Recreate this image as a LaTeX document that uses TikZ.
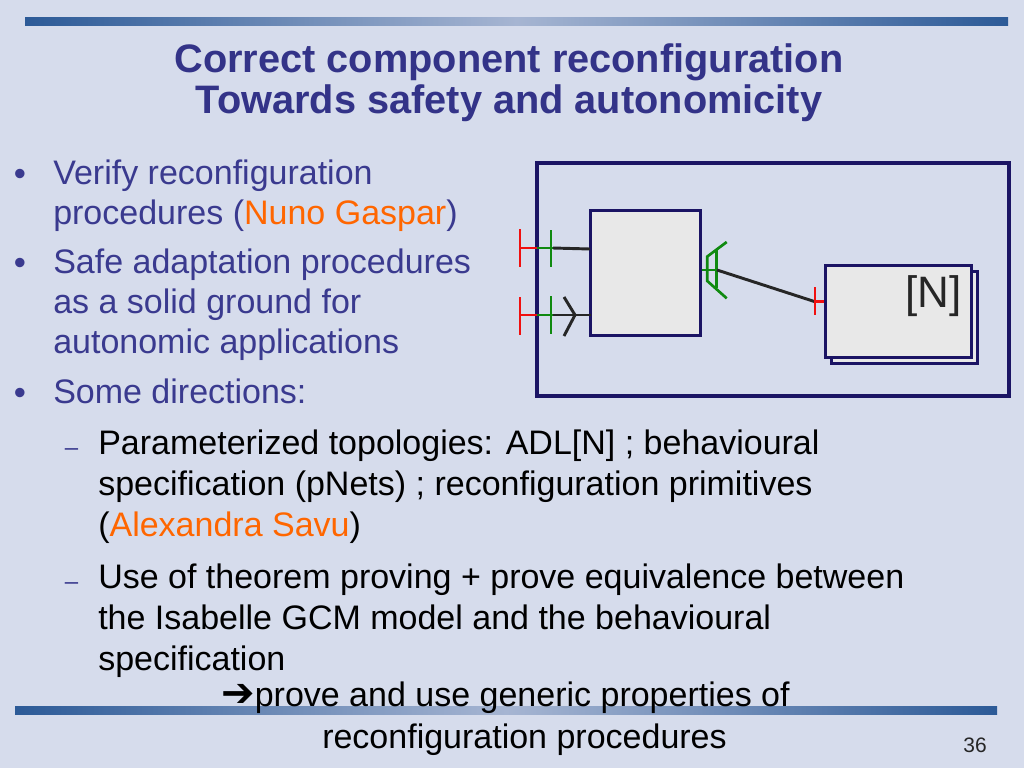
\documentclass[tikz,border=0pt]{standalone}
\usepackage{fontspec}
\setmainfont{Liberation Sans}
\newfontfamily\symfont{DejaVu Sans}
\usetikzlibrary{shadows}
\definecolor{slidebg}{HTML}{D6DCEC}
\definecolor{bartip}{HTML}{2C5A97}
\definecolor{barmid}{HTML}{A6B5D2}
\definecolor{titleblue}{HTML}{333388}
\definecolor{textblue}{HTML}{3A3A8F}
\definecolor{namecol}{HTML}{FF6600}
\definecolor{navy}{HTML}{1B1464}
\definecolor{boxgrey}{HTML}{E8E8E8}
\definecolor{portred}{HTML}{F01010}
\definecolor{portgreen}{HTML}{108A10}
\newcommand\bodysize{\fontsize{25.5pt}{30pt}\selectfont}
\tikzset{
	headline/.style={anchor=base, inner sep=0pt, text=titleblue, font=\fontsize{29.8pt}{36pt}\selectfont\bfseries},
	lvlone/.style={anchor=base west, inner sep=0pt, text=textblue, font=\bodysize},
	lvltwo/.style={lvlone, text=black},
	bulletmark/.style={anchor=base, inner sep=0pt, text=textblue, font=\fontsize{26pt}{28pt}\selectfont},
	dashmark/.style={anchor=base, inner sep=0pt, text=textblue, font=\fontsize{18pt}{20pt}\selectfont},
	comp/.style={draw=navy, fill=boxgrey, line width=2.25pt, inner sep=0pt},
	redport/.style={draw=portred, line width=2.2pt},
	greenport/.style={draw=portgreen, line width=2pt},
	wire/.style={draw=black!85, line width=2.2pt},
	slidebar/.style={left color=bartip, right color=bartip, middle color=barmid}
}
\begin{document}
\begin{tikzpicture}[x=0.75pt, y=-0.75pt]
		%%%%% START %%%%%
		
		\fill[slidebg] (0, 0) rectangle (1024, 768);
		\useasboundingbox (0, 0) rectangle (1024, 768);
		
		\shade[slidebar] (25, 17) rectangle (1008, 25);
		\shade[slidebar] (15, 706) rectangle (997, 714);
		
		\node[headline] (title1) at (509, 72) {Correct component reconfiguration};
		\node[headline] (title2) at (509, 113) {Towards safety and autonomicity};
		
		%%%%% BULLETS %%%%%
		\node[bulletmark] (m1) at (20, 185) {•};
		\node[lvlone] (v1) at (53, 184) {Verify reconfiguration};
		\node[lvlone] (v2) at (53, 224) {procedures (\textcolor{namecol}{Nuno Gaspar})};
		
		\node[bulletmark] (m2) at (20, 274) {•};
		\node[lvlone] (s1) at (53, 273) {Safe adaptation procedures};
		\node[lvlone] (s2) at (53, 313) {as a solid ground for};
		\node[lvlone] (s3) at (53, 353) {autonomic applications};
		
		\node[bulletmark] (m3) at (20, 404) {•};
		\node[lvlone] (d1) at (53, 403) {Some directions:};
		
		\node[dashmark] (m4) at (71.5, 455) {–};
		\node[lvltwo] (p1) at (98, 454) {Parameterized topologies: ADL[N] ; behavioural};
		\node[lvltwo] (p2) at (98, 495) {specification (pNets) ; reconfiguration primitives};
		\node[lvltwo] (p3) at (98, 536) {(\textcolor{namecol}{Alexandra Savu})};
		
		\node[dashmark] (m5) at (71.5, 589) {–};
		\node[lvltwo] (u1) at (98, 588) {Use of theorem proving + prove equivalence between};
		\node[lvltwo] (u2) at (98, 629) {the Isabelle GCM model and the behavioural};
		\node[lvltwo] (u3) at (98, 670) {specification};
		
		\node[lvltwo] (c1) at (221, 706) {{\symfont\fontsize{30pt}{32pt}\selectfont ➔}prove and use generic properties of};
		\node[lvltwo] (c2) at (322, 748) {reconfiguration procedures};
		
		\node[anchor=base east, inner sep=0pt, text=black!85, font=\fontsize{15.7pt}{18pt}\selectfont] (page) at (987, 752) {36};
		
		%%%%% COMPONENTS %%%%%
		\node[comp, fill=none, line width=3pt, minimum width=354.2pt, minimum height=174.3pt] (outer) at (773, 279.5) {};
		\node[comp, minimum width=82.5pt, minimum height=93.75pt] (prim) at (645, 273.2) {};
		\node[comp, copy shadow={shadow xshift=4.5pt, shadow yshift=-4.5pt}, minimum width=109.5pt, minimum height=69pt] (multi) at (898.7, 311.7) {};
		\node[anchor=base east, inner sep=0pt, text=black!85, font=\fontsize{33pt}{36pt}\selectfont] (card) at (962, 307) {[N]};
		
		% left interfaces
		\coordinate (itfA) at (537, 248);
		\coordinate (itfB) at (537, 315);
		\coordinate (pinA) at (590, 249);
		\coordinate (pinB) at (591, 315);
		
		\draw[redport] (520, 229) -- (520, 267) (520, 248) -- (itfA);
		\draw[greenport] (itfA) -- (553, 248) (551, 230) -- (551, 267);
		\draw[wire] (553, 248) -- (pinA);
		
		\draw[redport] (520, 297) -- (520, 335) (520, 315) -- (itfB);
		\draw[greenport] (itfB) -- (553, 315) (551, 296) -- (551, 334);
		\draw[wire] (553, 315) -- (pinB);
		\draw[wire] (564, 297) -- (575, 315) -- (564, 336);
		
		% binding to the multicast group
		\coordinate (srv) at (717, 270);
		\coordinate (cli) at (815, 301.7);
		\draw[greenport] (prim.east |- srv) -- (srv);
		\draw[greenport] (726.7, 242) -- (707.3, 256.5) -- (707.3, 281) -- (726.7, 298.3);
		\draw[greenport] (716.7, 250) -- (716.7, 288);
		\draw[wire] (srv) -- (cli);
		\draw[redport] (815, 287) -- (815, 315) (cli) -- (multi.west |- cli);
		
		%%%%% END %%%%%
	\end{tikzpicture}
\end{document}
